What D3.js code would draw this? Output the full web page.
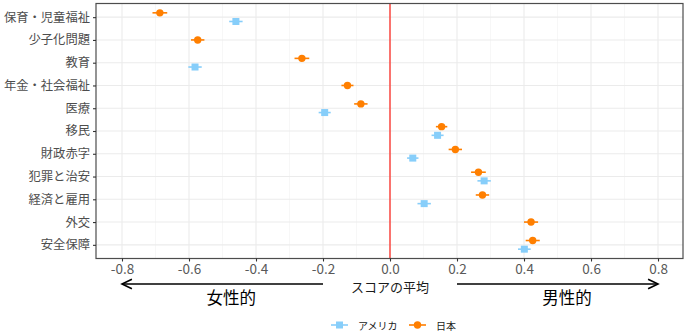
<!DOCTYPE html>
<html>
<head>
<meta charset="utf-8">
<script src="https://cdn.jsdelivr.net/npm/d3@7"></script>
<style>
  html, body { margin: 0; padding: 0; background: #fff; }
  svg { display: block; font-family: "Noto Sans CJK JP", "Noto Sans", sans-serif; }
</style>
</head>
<body>
<svg id="chart" width="688" height="334"></svg>
<script>
// Topics, top to bottom
const categories = ['保育・児童福祉', '少子化問題', '教育', '年金・社会福祉', '医療', '移民',
                    '財政赤字', '犯罪と治安', '経済と雇用', '外交', '安全保障'];
// Mean score per topic (null = topic not asked in that country)
const usMeans = [-0.460, null, -0.582, null, -0.195, 0.142, 0.068, 0.281, 0.102, null, 0.401];
const jpMeans = [-0.687, -0.574, -0.263, -0.127, -0.087, 0.154, 0.195, 0.264, 0.276, 0.421, 0.426];
// Half-width of the interval around each mean
const usErr = [0.020, null, 0.020, null, 0.018, 0.018, 0.017, 0.020, 0.020, null, 0.019];
const jpErr = [0.022, 0.020, 0.022, 0.018, 0.020, 0.017, 0.020, 0.022, 0.020, 0.021, 0.021];
const seriesNames = ['アメリカ', '日本'];
const xTicks = [-0.8, -0.6, -0.4, -0.2, 0.0, 0.2, 0.4, 0.6, 0.8];
const xMinor = [-0.7, -0.5, -0.3, -0.1, 0.1, 0.3, 0.5, 0.7];
// Direction arrows below the axis: [from, to, label position, label]
const arrowFrom = [-0.2, 0.2];
const arrowTo = [-0.8, 0.8];
const arrowLabelAt = [-0.474, 0.528];
const arrowLabels = ['女性的', '男性的'];

const colors = { 'アメリカ': '#87CEFA', '日本': '#FF7F00' };

const svg = d3.select('#chart');
const panel = { left: 96, right: 683, top: 3.5, bottom: 258.5 };

const x = d3.scaleLinear().domain([-0.8776, 0.8746]).range([panel.left, panel.right]);
const y = d3.scalePoint().domain(categories).range([panel.top, panel.bottom]).padding(0.6);
const dodge = y.step() * 0.19;

// Build point records; a topic with only one country sits on the row centre
const points = [];
categories.forEach((c, i) => {
  const both = usMeans[i] != null && jpMeans[i] != null;
  if (jpMeans[i] != null) points.push({ cat: c, s: '日本', v: jpMeans[i], e: jpErr[i], off: both ? -dodge : 0 });
  if (usMeans[i] != null) points.push({ cat: c, s: 'アメリカ', v: usMeans[i], e: usErr[i], off: both ? dodge : 0 });
});

// Panel background and grid
svg.append('rect').attr('x', panel.left).attr('y', panel.top)
  .attr('width', panel.right - panel.left).attr('height', panel.bottom - panel.top).attr('fill', '#fff');
const grid = svg.append('g');
grid.selectAll('.minor').data(xMinor).join('line')
  .attr('x1', d => x(d)).attr('x2', d => x(d)).attr('y1', panel.top).attr('y2', panel.bottom)
  .attr('stroke', '#F2F2F2').attr('stroke-width', 0.6);
grid.selectAll('.majorx').data(xTicks).join('line')
  .attr('x1', d => x(d)).attr('x2', d => x(d)).attr('y1', panel.top).attr('y2', panel.bottom)
  .attr('stroke', '#EBEBEB').attr('stroke-width', 1.1);
grid.selectAll('.majory').data(categories).join('line')
  .attr('x1', panel.left).attr('x2', panel.right).attr('y1', d => y(d)).attr('y2', d => y(d))
  .attr('stroke', '#EBEBEB').attr('stroke-width', 1.1);

// Zero reference line
svg.append('line').attr('x1', x(0)).attr('x2', x(0)).attr('y1', panel.top).attr('y2', panel.bottom)
  .attr('stroke', '#FF0A00').attr('stroke-width', 1.1);

// Error bars
svg.append('g').selectAll('line').data(points).join('line')
  .attr('x1', d => x(d.v - d.e)).attr('x2', d => x(d.v + d.e))
  .attr('y1', d => y(d.cat) + d.off).attr('y2', d => y(d.cat) + d.off)
  .attr('stroke', d => colors[d.s]).attr('stroke-width', 1.6);

// Points: squares for アメリカ, circles for 日本
const sq = 7;
svg.append('g').selectAll('rect').data(points.filter(d => d.s === 'アメリカ')).join('rect')
  .attr('x', d => x(d.v) - sq / 2).attr('y', d => y(d.cat) + d.off - sq / 2)
  .attr('width', sq).attr('height', sq).attr('fill', colors['アメリカ']);
svg.append('g').selectAll('circle').data(points.filter(d => d.s === '日本')).join('circle')
  .attr('cx', d => x(d.v)).attr('cy', d => y(d.cat) + d.off).attr('r', 3.7)
  .attr('fill', colors['日本']);

// Panel border
svg.append('rect').attr('x', panel.left).attr('y', panel.top)
  .attr('width', panel.right - panel.left).attr('height', panel.bottom - panel.top)
  .attr('fill', 'none').attr('stroke', '#4D4D4D').attr('stroke-width', 1.2);

// Axes
const xAxis = svg.append('g').attr('transform', `translate(0,${panel.bottom})`)
  .call(d3.axisBottom(x).tickValues(xTicks).tickSize(3).tickPadding(3).tickFormat(d3.format('.1f')));
const yAxis = svg.append('g').attr('transform', `translate(${panel.left},0)`)
  .call(d3.axisLeft(y).tickSize(3).tickPadding(3));
[xAxis, yAxis].forEach(a => {
  a.select('.domain').remove();
  a.selectAll('.tick line').attr('stroke', '#333').attr('stroke-width', 1.1);
  a.selectAll('.tick text').attr('fill', '#4D4D4D').attr('font-family', '"Noto Sans CJK JP", sans-serif');
});
xAxis.selectAll('.tick text').attr('font-size', 13.5).attr('fill', '#595959')
  .text(d => d3.format('.1f')(d).replace('−', '-'));
yAxis.selectAll('.tick text').attr('font-size', 12.3);

// Axis title
svg.append('text').attr('x', x(0)).attr('y', 286).attr('text-anchor', 'middle')
  .attr('dominant-baseline', 'central').attr('font-size', 13).attr('fill', '#1a1a1a')
  .text('スコアの平均');

// Direction arrows with open heads
const arrowY = 284;
const head = 11, ang = Math.PI / 7;
const ag = svg.append('g').attr('stroke', '#000').attr('stroke-width', 1.6).attr('fill', 'none');
arrowFrom.forEach((f, i) => {
  const x0 = x(f), x1 = x(arrowTo[i]);
  const dir = Math.sign(x1 - x0);
  ag.append('line').attr('x1', x0).attr('x2', x1).attr('y1', arrowY).attr('y2', arrowY);
  ag.append('path').attr('d',
    `M${x1 - dir * head * Math.cos(ang)},${arrowY - head * Math.sin(ang)} L${x1},${arrowY} L${x1 - dir * head * Math.cos(ang)},${arrowY + head * Math.sin(ang)}`);
});
svg.selectAll('.arrowlab').data(arrowLabels).join('text')
  .attr('x', (d, i) => x(arrowLabelAt[i])).attr('y', 297).attr('text-anchor', 'middle')
  .attr('dominant-baseline', 'central').attr('font-size', 16.5).attr('fill', '#000')
  .text(d => d);

// Legend
const legY = 325;
const legX = [331, 409];
const leg = svg.append('g');
seriesNames.forEach((s, i) => {
  const g = leg.append('g').attr('transform', `translate(${legX[i]},${legY})`);
  g.append('line').attr('x1', 0).attr('x2', 17).attr('stroke', colors[s]).attr('stroke-width', 1.6);
  if (s === 'アメリカ') {
    g.append('rect').attr('x', 8.5 - 3.5).attr('y', -3.5).attr('width', 7).attr('height', 7).attr('fill', colors[s]);
  } else {
    g.append('circle').attr('cx', 8.5).attr('cy', 0).attr('r', 3.7).attr('fill', colors[s]);
  }
  g.append('text').attr('x', 27).attr('y', 0).attr('dominant-baseline', 'central')
    .attr('font-size', 10).attr('fill', '#1a1a1a').text(s);
});
</script>
</body>
</html>
